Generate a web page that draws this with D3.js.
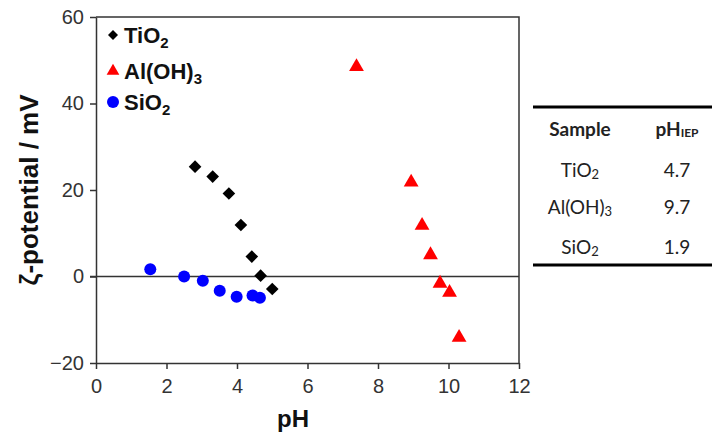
<!DOCTYPE html>
<meta charset="utf-8">
<script src="https://d3js.org/d3.v7.min.js"></script>
<style>
  body { margin: 0; background: #fff; }
  text { font-family: Arial, "Liberation Sans", sans-serif; }
  .tbl { font-family: Lato, "Open Sans", sans-serif; font-size: 19px; fill: #222; }
</style>
<body>
<script>

var width = 712
var height = 443

var tio2_ph = [2.81, 3.31, 3.77, 4.11, 4.42, 4.67, 5.00]
var tio2_zeta = [25.4, 23.1, 19.2, 11.9, 4.6, 0.2, -2.9]

var aloh_ph = [7.39, 8.94, 9.25, 9.49, 9.76, 10.03, 10.30]
var aloh_zeta = [48.5, 21.8, 11.8, 5.0, -1.6, -3.7, -14.1]

var sio2_ph = [1.54, 2.50, 3.03, 3.51, 3.99, 4.44, 4.65]
var sio2_zeta = [1.7, 0.0, -1.0, -3.3, -4.7, -4.4, -4.9]

var x_ticks = [0, 2, 4, 6, 8, 10, 12]
var y_ticks = [-20, 0, 20, 40, 60]

var table_samples = [["TiO", "2"], ["Al(OH)", "3"], ["SiO", "2"]]
var table_iep = ["4.7", "9.7", "1.9"]

var x = d3.scaleLinear().domain([0, 12]).range([96, 519])
var y = d3.scaleLinear().domain([-20, 60]).range([363, 17])

var svg = d3.select("body").append("svg")
            .attr("width", width)
            .attr("height", height)

var axis_color = "#333"

// axes
svg.append("g")
    .attr("transform", "translate(0," + y(-20) + ")")
    .call(d3.axisBottom(x).tickValues(x_ticks).tickSize(6).tickSizeOuter(0).tickPadding(10))
    .call(g => g.selectAll("text").attr("font-size", 20).attr("fill", "#333").attr("font-family", "Arial, sans-serif"))
    .call(g => g.selectAll("line, path").attr("stroke", axis_color).attr("stroke-width", 1.5))

svg.append("g")
    .attr("transform", "translate(" + x(0) + ",0)")
    .call(d3.axisLeft(y).tickValues(y_ticks).tickSize(6).tickSizeOuter(0).tickPadding(6))
    .call(g => g.selectAll("text").attr("font-size", 20).attr("fill", "#333").attr("font-family", "Arial, sans-serif"))
    .call(g => g.selectAll("line, path").attr("stroke", axis_color).attr("stroke-width", 1.5))

// box top and right
svg.append("path")
   .attr("d", "M" + x(0) + "," + y(60) + "H" + x(12) + "V" + y(-20))
   .attr("fill", "none").attr("stroke", axis_color).attr("stroke-width", 1.5)

// zero line
svg.append("line")
   .attr("x1", x(0) - 6).attr("x2", x(12))
   .attr("y1", y(0)).attr("y2", y(0))
   .attr("stroke", axis_color).attr("stroke-width", 1.5)

// markers
var diamond = d3.symbol().type(d3.symbolSquare).size(80)
var triangle = d3.symbol().type(d3.symbolTriangle).size(95)

svg.append("g").selectAll("path")
   .data(d3.range(tio2_ph.length)).enter().append("path")
   .attr("d", diamond())
   .attr("transform", i => "translate(" + x(tio2_ph[i]) + "," + y(tio2_zeta[i]) + ") rotate(45)")
   .attr("fill", "#000")

svg.append("g").selectAll("path")
   .data(d3.range(aloh_ph.length)).enter().append("path")
   .attr("d", triangle())
   .attr("transform", i => "translate(" + x(aloh_ph[i]) + "," + y(aloh_zeta[i]) + ")")
   .attr("fill", "#f00")

svg.append("g").selectAll("circle")
   .data(d3.range(sio2_ph.length)).enter().append("circle")
   .attr("cx", i => x(sio2_ph[i]))
   .attr("cy", i => y(sio2_zeta[i]))
   .attr("r", 6)
   .attr("fill", "#00f")

// legend
var legend = [
  { name: "TiO", sub: "2", y: 35, kind: "d", color: "#000" },
  { name: "Al(OH)", sub: "3", y: 71, kind: "t", color: "#f00" },
  { name: "SiO", sub: "2", y: 102, kind: "c", color: "#00f" }
]
legend.forEach(function(l) {
  if (l.kind == "d") svg.append("path").attr("d", d3.symbol().type(d3.symbolSquare).size(50)()).attr("transform", "translate(113," + l.y + ") rotate(45)").attr("fill", l.color)
  if (l.kind == "t") svg.append("path").attr("d", d3.symbol().type(d3.symbolTriangle).size(70)()).attr("transform", "translate(113," + l.y + ")").attr("fill", l.color)
  if (l.kind == "c") svg.append("circle").attr("cx", 113).attr("cy", l.y).attr("r", 6).attr("fill", l.color)
  var t = svg.append("text").attr("x", 124).attr("y", l.y + 8)
     .attr("font-size", 22).attr("font-weight", "bold").attr("fill", "#111")
  t.append("tspan").text(l.name)
  t.append("tspan").attr("dy", 5).attr("font-size", 15).text(l.sub)
})

// axis titles
svg.append("text")
   .attr("transform", "translate(293,427)")
   .style("text-anchor", "middle")
   .attr("font-size", 24).attr("font-weight", "bold").attr("fill", "#111")
   .text("pH")

svg.append("text")
   .attr("transform", "translate(38,190) rotate(-90)")
   .style("text-anchor", "middle")
   .attr("font-size", 26).attr("font-weight", "bold").attr("fill", "#111")
   .text("ζ-potential / mV")

// table
var tx0 = 533, tx1 = 712
svg.append("line").attr("x1", tx0).attr("x2", tx1).attr("y1", 107).attr("y2", 107).attr("stroke", "#000").attr("stroke-width", 3)
svg.append("line").attr("x1", tx0).attr("x2", tx1).attr("y1", 265).attr("y2", 265).attr("stroke", "#000").attr("stroke-width", 3)

svg.append("text").attr("class", "tbl").attr("x", 580).attr("y", 136).attr("text-anchor", "middle").attr("font-weight", "bold").text("Sample")
var hd = svg.append("text").attr("class", "tbl").attr("x", 677).attr("y", 136).attr("text-anchor", "middle").attr("font-weight", "bold")
hd.append("tspan").text("pH")
hd.append("tspan").attr("font-size", 12).attr("dy", 1).text("IEP")

var row_y = [177, 214, 254]
table_samples.forEach(function(s, i) {
  var t = svg.append("text").attr("class", "tbl").attr("x", 580).attr("y", row_y[i]).attr("text-anchor", "middle")
  t.append("tspan").text(s[0])
  t.append("tspan").attr("font-size", 13).attr("dy", 2).text(s[1])
  svg.append("text").attr("class", "tbl").attr("x", 677).attr("y", row_y[i]).attr("text-anchor", "middle").text(table_iep[i])
})

</script>
</body>
